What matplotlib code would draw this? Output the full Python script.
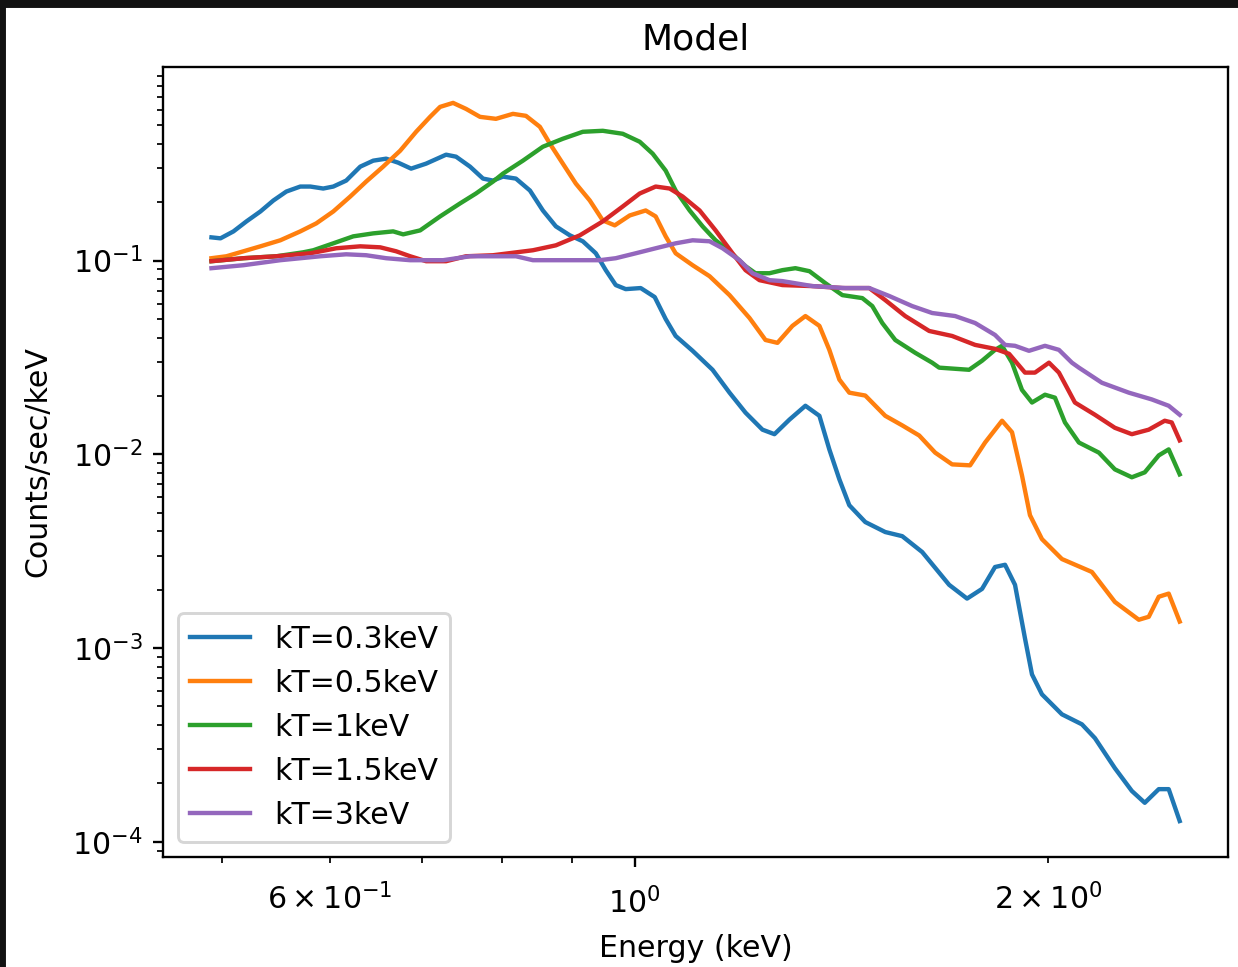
import matplotlib
matplotlib.use("Agg")
import matplotlib.pyplot as plt
from matplotlib.patches import Rectangle

# energies (keV) and model count rates, one set per temperature
e_03 = [0.4916, 0.4991, 0.5101, 0.5213, 0.5337, 0.5454, 0.5574, 0.5706, 0.5803, 0.5930,
        0.6031, 0.6163, 0.6310, 0.6449, 0.6590, 0.6724, 0.6872, 0.7047, 0.7287, 0.7410,
        0.7586, 0.7753, 0.7884, 0.8017, 0.8193, 0.8388, 0.8572, 0.8761, 0.8969, 0.9166,
        0.9368, 0.9526, 0.9687, 0.9850, 1.0101, 1.0341, 1.0533, 1.0711, 1.1020, 1.1395,
        1.1724, 1.2043, 1.2390, 1.2642, 1.2964, 1.3316, 1.3632, 1.3861, 1.4096, 1.4333,
        1.4723, 1.5224, 1.5664, 1.6198, 1.6947, 1.7464, 1.7909, 1.8303, 1.8613, 1.8927,
        1.9247, 1.9474, 1.9802, 2.0477, 2.1175, 2.1642, 2.2379, 2.3025, 2.3530, 2.4089,
        2.4494, 2.4950]
c_03 = [0.1317, 0.1302, 0.1414, 0.1592, 0.1792, 0.2041, 0.2270, 0.2409, 0.2409, 0.2353,
        0.2409, 0.2586, 0.3052, 0.3277, 0.3355, 0.3200, 0.2981, 0.3163, 0.3518, 0.3436,
        0.3052, 0.2648, 0.2586, 0.2711, 0.2648, 0.2298, 0.1813, 0.1501, 0.1349, 0.1257,
        0.1090, 0.0892, 0.0747, 0.0712, 0.0721, 0.0648, 0.0499, 0.0408, 0.0342, 0.0273,
        0.0208, 0.0164, 0.0134, 0.0127, 0.0151, 0.0178, 0.0158, 0.0106, 0.00743, 0.00546,
        0.00447, 0.00397, 0.00378, 0.00313, 0.00212, 0.00180, 0.00202, 0.00262, 0.00269, 0.00212,
        0.00112, 0.000731, 0.000577, 0.000455, 0.000404, 0.000343, 0.000240, 0.000183, 0.000159, 0.000187,
        0.000187, 0.000128]

e_05 = [0.4916, 0.5041, 0.5187, 0.5337, 0.5518, 0.5706, 0.5861, 0.6031, 0.6205, 0.6373,
        0.6557, 0.6747, 0.6930, 0.7094, 0.7214, 0.7373, 0.7535, 0.7714, 0.7923, 0.8152,
        0.8332, 0.8529, 0.8674, 0.8864, 0.9059, 0.9274, 0.9478, 0.9671, 0.9917, 1.0186,
        1.0358, 1.0533, 1.0711, 1.1020, 1.1338, 1.1724, 1.2124, 1.2453, 1.2706, 1.3029,
        1.3316, 1.3632, 1.3861, 1.4096, 1.4333, 1.4723, 1.5224, 1.5664, 1.6117, 1.6554,
        1.7032, 1.7553, 1.8000, 1.8520, 1.8832, 1.9149, 1.9408, 1.9802, 2.0477, 2.1533,
        2.2379, 2.3296, 2.3688, 2.4089, 2.4494, 2.4950]
c_05 = [0.1028, 0.1052, 0.1116, 0.1184, 0.1272, 0.1414, 0.1555, 0.1792, 0.2140, 0.2556,
        0.3052, 0.3688, 0.4618, 0.5515, 0.6208, 0.6510, 0.6063, 0.5515, 0.5387, 0.5715,
        0.5581, 0.4900, 0.4007, 0.3163, 0.2496, 0.2041, 0.1611, 0.1519, 0.1709, 0.1813,
        0.1689, 0.1333, 0.1090, 0.0946, 0.0830, 0.0663, 0.0505, 0.0389, 0.0376, 0.0460,
        0.0517, 0.0460, 0.0346, 0.0243, 0.0208, 0.0201, 0.0158, 0.0141, 0.0125, 0.0102,
        0.00887, 0.00877, 0.0115, 0.0149, 0.0130, 0.00779, 0.00485, 0.00365, 0.00288, 0.00247,
        0.00173, 0.00140, 0.00145, 0.00184, 0.00191, 0.00137]

e_1 = [0.4916, 0.5187, 0.5481, 0.5735, 0.5832, 0.6031, 0.6236, 0.6449, 0.6668, 0.6781,
       0.6977, 0.7214, 0.7459, 0.7662, 0.7753, 0.7884, 0.8017, 0.8290, 0.8572, 0.8864,
       0.9166, 0.9478, 0.9801, 1.0084, 1.0306, 1.0533, 1.0711, 1.0965, 1.1206, 1.1453,
       1.1724, 1.2043, 1.2246, 1.2537, 1.2812, 1.3094, 1.3406, 1.3769, 1.4167, 1.4649,
       1.4897, 1.5148, 1.5482, 1.6010, 1.6471, 1.6666, 1.7524, 1.7909, 1.8303, 1.8520,
       1.8832, 1.9149, 1.9474, 1.9903, 2.0239, 2.0581, 2.1069, 2.1787, 2.2379, 2.3025,
       2.3530, 2.4089, 2.4494, 2.4950]
c_1 = [0.0992, 0.1028, 0.1052, 0.1103, 0.1130, 0.1227, 0.1333, 0.1381, 0.1414, 0.1365,
       0.1431, 0.1689, 0.1970, 0.2218, 0.2353, 0.2556, 0.2810, 0.3277, 0.3867, 0.4251,
       0.4618, 0.4673, 0.4510, 0.4103, 0.3560, 0.2911, 0.2298, 0.1813, 0.1501, 0.1272,
       0.1116, 0.0935, 0.0860, 0.0860, 0.0892, 0.0913, 0.0881, 0.0764, 0.0663, 0.0640,
       0.0582, 0.0476, 0.0389, 0.0334, 0.0297, 0.0280, 0.0273, 0.0304, 0.0346, 0.0363,
       0.0297, 0.0215, 0.0185, 0.0203, 0.0196, 0.0146, 0.0115, 0.0102, 0.00836, 0.00761,
       0.00807, 0.00987, 0.0106, 0.00788]

e_15 = [0.4916, 0.5187, 0.5481, 0.5803, 0.6061, 0.6310, 0.6525, 0.6702, 0.6861, 0.7047,
        0.7287, 0.7535, 0.7884, 0.8430, 0.8761, 0.9120, 0.9478, 0.9801, 1.0084, 1.0358,
        1.0604, 1.0837, 1.1150, 1.1453, 1.1783, 1.2043, 1.2328, 1.2812, 1.3473, 1.4167,
        1.4822, 1.5224, 1.5743, 1.6389, 1.7032, 1.7701, 1.8303, 1.8739, 1.9247, 1.9571,
        2.0037, 2.0374, 2.0928, 2.1642, 2.2379, 2.3025, 2.3688, 2.4331, 2.4618, 2.4950]
c_15 = [0.0992, 0.1028, 0.1052, 0.1090, 0.1157, 0.1184, 0.1170, 0.1116, 0.1052, 0.0992,
        0.0992, 0.1052, 0.1065, 0.1130, 0.1198, 0.1349, 0.1592, 0.1901, 0.2218, 0.2409,
        0.2353, 0.2140, 0.1813, 0.1431, 0.1090, 0.0892, 0.0792, 0.0747, 0.0738, 0.0721,
        0.0721, 0.0625, 0.0517, 0.0433, 0.0408, 0.0367, 0.0350, 0.0330, 0.0264, 0.0264,
        0.0297, 0.0264, 0.0185, 0.0160, 0.0137, 0.0127, 0.0134, 0.0149, 0.0146, 0.0118]

e_3 = [0.4916, 0.5187, 0.5518, 0.5901, 0.6163, 0.6373, 0.6590, 0.6861, 0.7251, 0.7586,
       0.7884, 0.8193, 0.8430, 0.8909, 0.9431, 0.9687, 1.0017, 1.0358, 1.0711, 1.1020,
       1.1338, 1.1588, 1.1922, 1.2185, 1.2537, 1.2812, 1.3473, 1.4238, 1.4822, 1.5327,
       1.5928, 1.6471, 1.7118, 1.7701, 1.8303, 1.8613, 1.8927, 1.9376, 1.9903, 2.0374,
       2.0824, 2.1069, 2.1896, 2.2909, 2.3807, 2.4494, 2.4950]
c_3 = [0.0913, 0.0946, 0.1004, 0.1052, 0.1077, 0.1065, 0.1028, 0.1004, 0.1004, 0.1052,
       0.1052, 0.1052, 0.1004, 0.1004, 0.1004, 0.1028, 0.1090, 0.1157, 0.1227, 0.1272,
       0.1257, 0.1157, 0.1004, 0.0860, 0.0792, 0.0783, 0.0738, 0.0721, 0.0721, 0.0656,
       0.0582, 0.0536, 0.0517, 0.0476, 0.0413, 0.0367, 0.0363, 0.0342, 0.0363, 0.0346,
       0.0297, 0.0280, 0.0234, 0.0208, 0.0192, 0.0178, 0.0160]

labels = ["kT=0.3keV", "kT=0.5keV", "kT=1keV", "kT=1.5keV", "kT=3keV"]

# default mpl look, just rendered at ~2.1x
plt.rcParams["font.size"] = 10.3
plt.rcParams["axes.titlesize"] = 12.4
plt.rcParams["xtick.major.pad"] = 6.8
plt.rcParams["xtick.minor.pad"] = 6.8
plt.rcParams["axes.labelpad"] = 5.0

fig = plt.figure(figsize=(5.8953, 4.6049), dpi=210)
ax = fig.add_axes([0.1317, 0.1138, 0.8603, 0.8169])

ax.plot(e_03, c_03, label=labels[0])
ax.plot(e_05, c_05, label=labels[1])
ax.plot(e_1, c_1, label=labels[2])
ax.plot(e_15, c_15, label=labels[3])
ax.plot(e_3, c_3, label=labels[4])

ax.set_xscale("log")
ax.set_yscale("log")
ax.set_title("Model")
ax.set_xlabel("Energy (keV)")
ax.set_ylabel("Counts/sec/keV", labelpad=7.0)
ax.legend(loc="lower left")

# dark screenshot edges
fig.add_artist(Rectangle((0, 1 - 6 / 967), 1, 6 / 967, transform=fig.transFigure,
                         color="#121212", zorder=10))
fig.add_artist(Rectangle((0, 0), 4 / 1238, 1, transform=fig.transFigure,
                         color="#121212", zorder=10))

fig.savefig("out.png", dpi=210)
